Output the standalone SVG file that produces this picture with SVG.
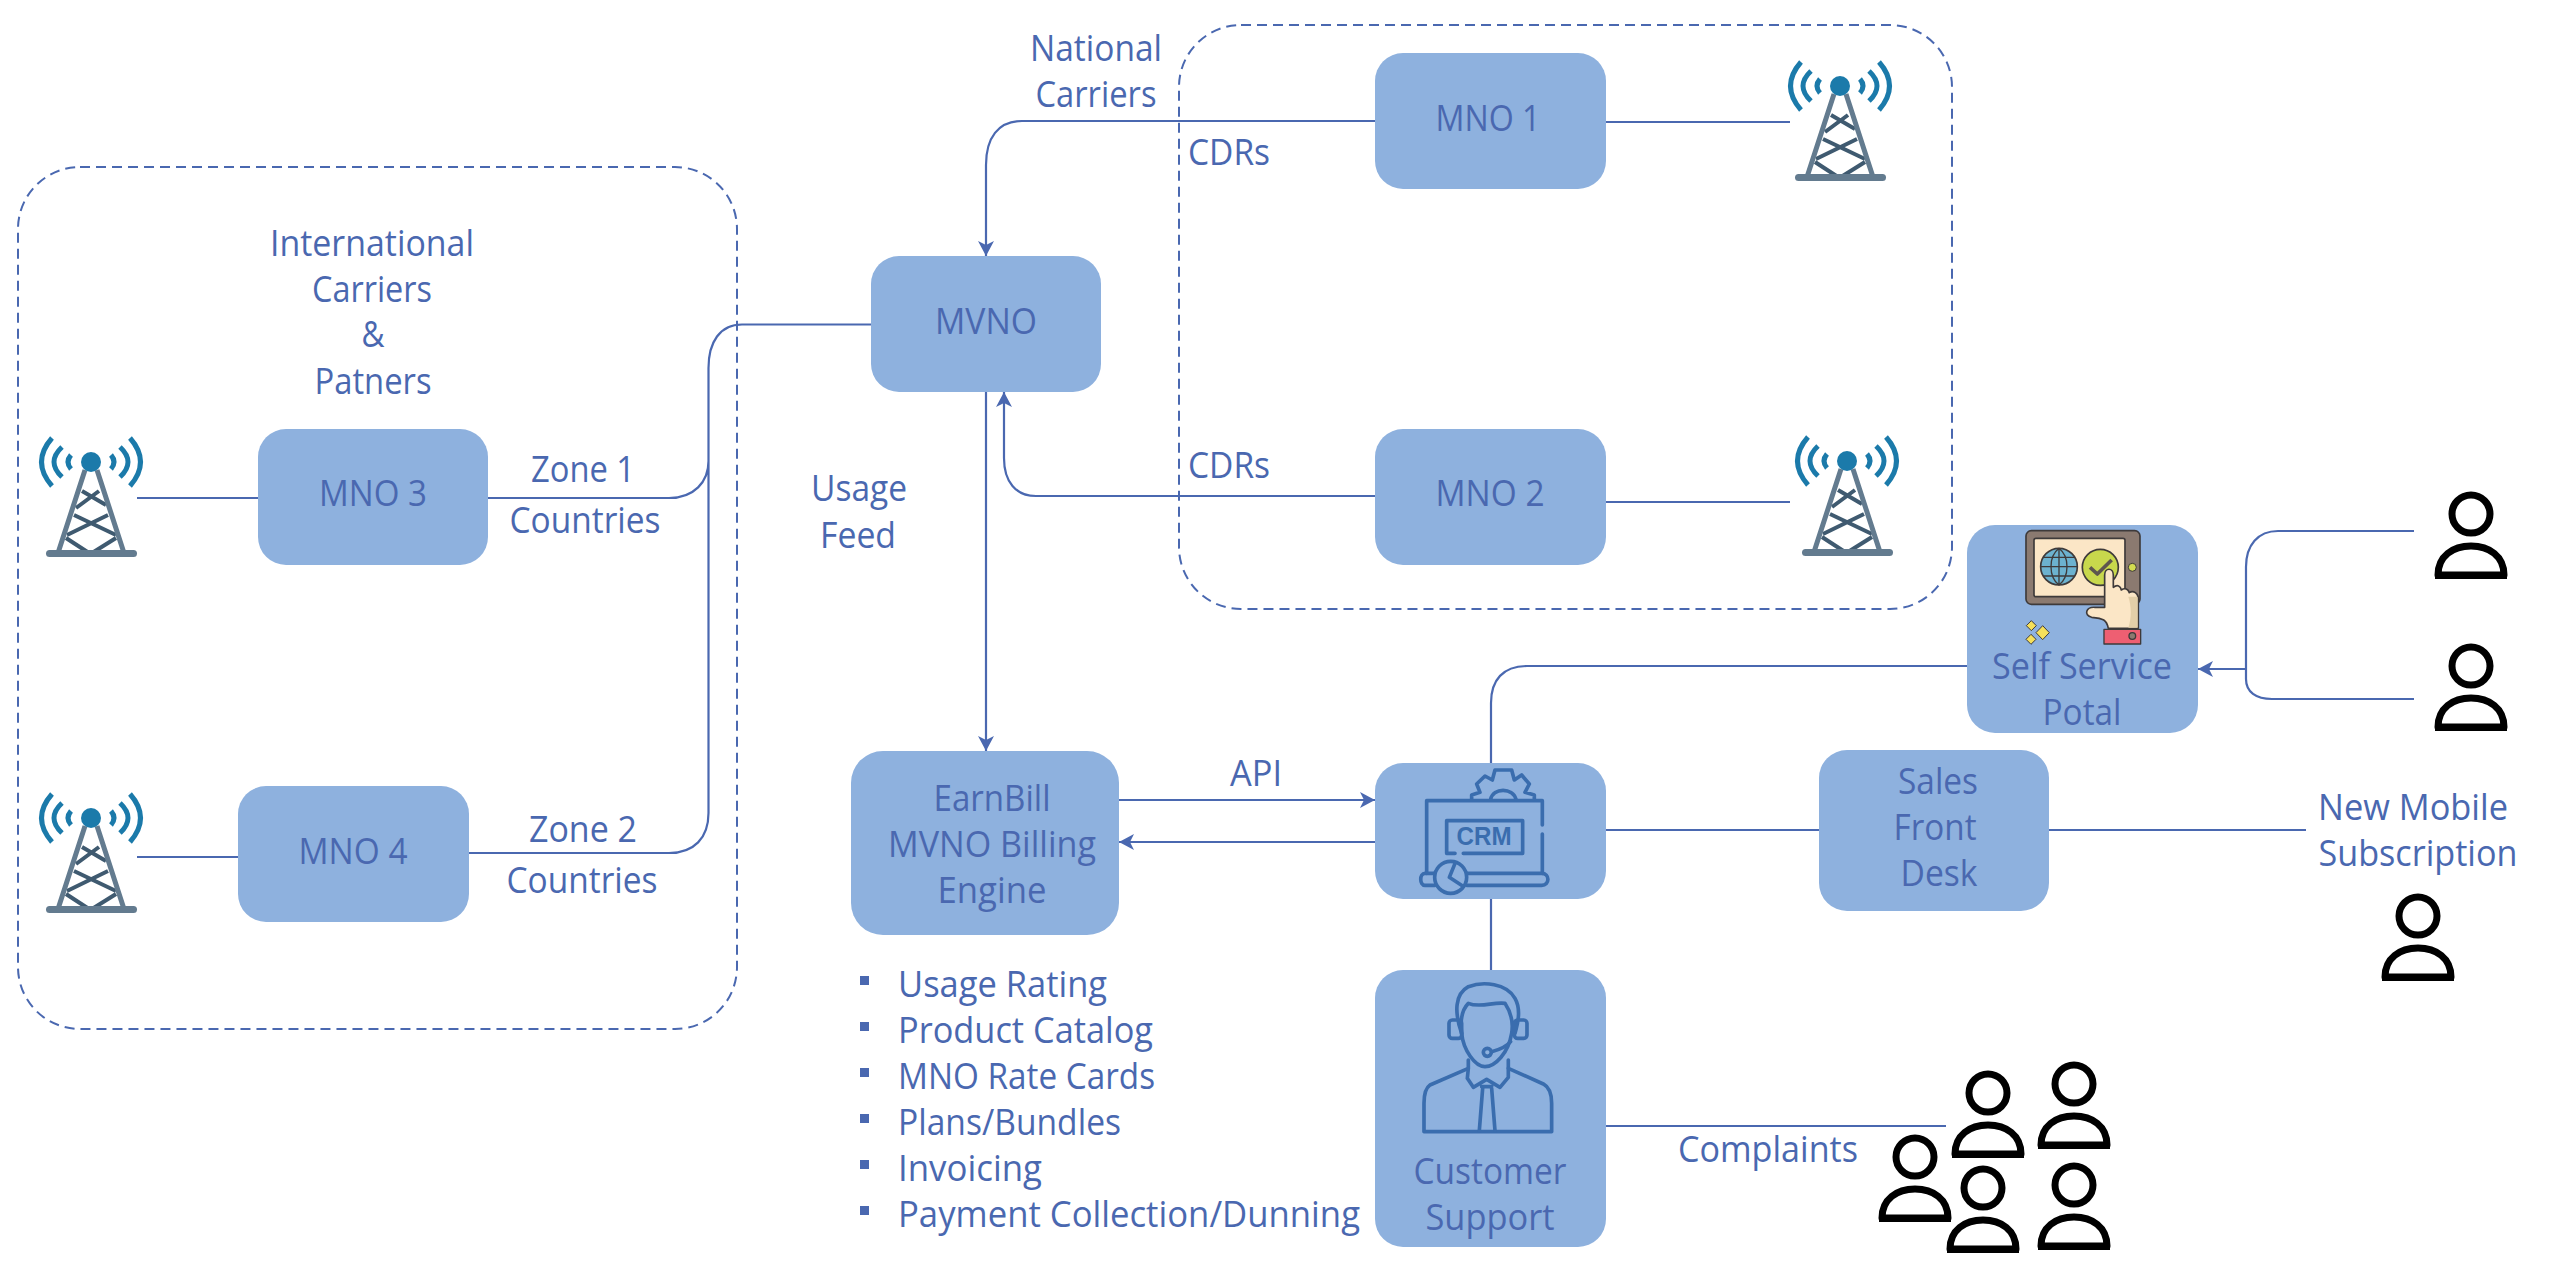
<svg xmlns="http://www.w3.org/2000/svg" xmlns:xlink="http://www.w3.org/1999/xlink" width="2560" height="1281" viewBox="0 0 2560 1281">
<style>
text{font-family:"Open Sans","Noto Sans","Liberation Sans",sans-serif;font-size:37px;fill:#4A68B0}
.c{text-anchor:middle}
.box{fill:#8EB1DE}
.line{fill:none;stroke:#4A68B0;stroke-width:2.2}
.dash{fill:none;stroke:#4A68B0;stroke-width:2;stroke-dasharray:10 6}
.arr{marker-end:url(#ah)}
.ico{fill:none;stroke:#3A6DAE;stroke-width:11;stroke-linecap:round;stroke-linejoin:round}
.dk{stroke:#3E3A3A;stroke-width:4;stroke-linejoin:round}
.leg{stroke:#637B8F;stroke-width:5;fill:none}
.brace{stroke:#3F5A70;stroke-width:4;fill:none}
.wave{stroke:#1B7AAA;stroke-width:5;fill:none}
.person{fill:none;stroke:#000;stroke-width:7;stroke-linejoin:round}
</style>
<defs>
<marker id="ah" markerUnits="userSpaceOnUse" viewBox="-16 -9 16 18" refX="0" refY="0" markerWidth="16" markerHeight="18" orient="auto"><path d="M0,0L-15,-8L-11,0L-15,8Z" fill="#4A68B0"/></marker>
<g id="tower">
<path class="wave" d="M-39,-24Q-60,0-39,24M-29,-15Q-45,0-29,15M-20,-7Q-26,0-20,7M39,-24Q60,0 39,24M29,-15Q45,0 29,15M20,-7Q26,0 20,7"/>
<path class="brace" d="M-9,29L15,43M8,29L-15,46M-17,53L25,73M17,53L-24,73M-25,76L-2,91M25,76L1,91"/>
<path class="leg" d="M-6,8L-33,91M6,8L33,91"/>
<circle r="10" fill="#1B7AAA"/>
<rect x="-45" y="88" width="91" height="7" rx="3.5" fill="#637B8F"/>
</g>
<g id="person">
<circle r="19" class="person"/>
<path class="person" d="M-33,61C-33,42-18,32 0,32C18,32 33,42 33,61Z"/>
<rect x="-36" y="59" width="72" height="6" fill="#000"/>
</g>
</defs>
<rect width="2560" height="1281" fill="#fff"/>
<g id="zones">
<rect class="dash" x="18" y="167" width="719" height="862" rx="62" ry="62"/>
<rect class="dash" x="1179" y="25" width="773" height="584" rx="62" ry="62"/>
</g>
<g id="connectors">
<path class="line arr" d="M1375,121H1022C998,121 986,138 986,165V256"/>
<path class="line arr" d="M1375,496H1036C1016,496 1004,482 1004,458V392"/>
<path class="line" d="M1606,122H1790M1606,502H1790"/>
<path class="line" d="M871,324.500H742C720,324.500 708.500,342 708.500,368V461C708.500,482 694,498 669,498H488M708.500,461V813C708.500,838 694,853 669,853H469"/>
<path class="line" d="M137,498H258M137,857H238"/>
<path class="line arr" d="M986,392V751"/>
<path class="line arr" d="M1119,800H1375"/>
<path class="line arr" d="M1375,842H1119"/>
<path class="line" d="M1967,666H1527C1503,666 1491,680 1491,703V763"/>
<path class="line" d="M1606,830H1819M2049,830H2306M1491,899V970M1606,1126H1946"/>
<path class="line" d="M2414,531H2278C2258,531 2246,545 2246,567V679C2246,692 2256,699 2272,699H2414"/>
<path class="line arr" d="M2246,669H2198"/>
</g>
<g id="labels">
<text class="c" x="372" y="256" textLength="204" lengthAdjust="spacingAndGlyphs">International</text>
<text class="c" x="372" y="302" textLength="120" lengthAdjust="spacingAndGlyphs">Carriers</text>
<text class="c" x="373" y="347" textLength="23" lengthAdjust="spacingAndGlyphs">&amp;</text>
<text class="c" x="373" y="394" textLength="117" lengthAdjust="spacingAndGlyphs">Patners</text>
<text class="c" x="1096" y="61" textLength="132" lengthAdjust="spacingAndGlyphs">National</text>
<text class="c" x="1096" y="107" textLength="121" lengthAdjust="spacingAndGlyphs">Carriers</text>
<text x="1188" y="165" textLength="82" lengthAdjust="spacingAndGlyphs">CDRs</text>
<text x="1188" y="478" textLength="82" lengthAdjust="spacingAndGlyphs">CDRs</text>
<text class="c" x="583" y="482" textLength="104" lengthAdjust="spacingAndGlyphs">Zone 1</text>
<text class="c" x="585" y="533" textLength="151" lengthAdjust="spacingAndGlyphs">Countries</text>
<text class="c" x="583" y="842" textLength="108" lengthAdjust="spacingAndGlyphs">Zone 2</text>
<text class="c" x="582" y="893" textLength="151" lengthAdjust="spacingAndGlyphs">Countries</text>
<text class="c" x="859" y="501" textLength="96" lengthAdjust="spacingAndGlyphs">Usage</text>
<text class="c" x="858" y="548" textLength="76" lengthAdjust="spacingAndGlyphs">Feed</text>
<text class="c" x="1256" y="786" textLength="52" lengthAdjust="spacingAndGlyphs">API</text>
<text x="1678" y="1162" textLength="180" lengthAdjust="spacingAndGlyphs">Complaints</text>
<text class="c" x="2413" y="820" textLength="190" lengthAdjust="spacingAndGlyphs">New Mobile</text>
<text class="c" x="2418" y="866" textLength="199" lengthAdjust="spacingAndGlyphs">Subscription</text>
</g>
<g id="billing-features">
<g fill="#4A68B0"><rect x="860" y="976" width="9" height="9"/><rect x="860" y="1022" width="9" height="9"/><rect x="860" y="1068" width="9" height="9"/><rect x="860" y="1114" width="9" height="9"/><rect x="860" y="1160" width="9" height="9"/><rect x="860" y="1206" width="9" height="9"/></g>
<text x="898" y="997" textLength="209" lengthAdjust="spacingAndGlyphs">Usage Rating</text>
<text x="898" y="1043" textLength="255" lengthAdjust="spacingAndGlyphs">Product Catalog</text>
<text x="898" y="1089" textLength="257" lengthAdjust="spacingAndGlyphs">MNO Rate Cards</text>
<text x="898" y="1135" textLength="223" lengthAdjust="spacingAndGlyphs">Plans/Bundles</text>
<text x="898" y="1181" textLength="144" lengthAdjust="spacingAndGlyphs">Invoicing</text>
<text x="898" y="1227" textLength="462" lengthAdjust="spacingAndGlyphs">Payment Collection/Dunning</text>
</g>
<g id="mvno"><rect class="box" x="871" y="256" width="230" height="136" rx="28"/><text class="c" x="986" y="334" textLength="102" lengthAdjust="spacingAndGlyphs">MVNO</text></g>
<g id="mno1"><rect class="box" x="1375" y="53" width="231" height="136" rx="28"/><text class="c" x="1488" y="131" textLength="105" lengthAdjust="spacingAndGlyphs">MNO 1</text></g>
<g id="mno2"><rect class="box" x="1375" y="429" width="231" height="136" rx="28"/><text class="c" x="1490" y="506" textLength="109" lengthAdjust="spacingAndGlyphs">MNO 2</text></g>
<g id="mno3"><rect class="box" x="258" y="429" width="230" height="136" rx="28"/><text class="c" x="373" y="506" textLength="108" lengthAdjust="spacingAndGlyphs">MNO 3</text></g>
<g id="mno4"><rect class="box" x="238" y="786" width="231" height="136" rx="28"/><text class="c" x="353" y="864" textLength="109" lengthAdjust="spacingAndGlyphs">MNO 4</text></g>
<g id="earnbill"><rect class="box" x="851" y="751" width="268" height="184" rx="32"/>
<text class="c" x="992" y="811" textLength="117" lengthAdjust="spacingAndGlyphs">EarnBill</text>
<text class="c" x="992" y="857" textLength="208" lengthAdjust="spacingAndGlyphs">MVNO Billing</text>
<text class="c" x="992" y="903" textLength="109" lengthAdjust="spacingAndGlyphs">Engine</text></g>
<g id="crm"><rect class="box" x="1375" y="763" width="231" height="136" rx="28"/>
<g transform="translate(1380 760) scale(.3333)">
<path class="ico" d="M275,118V105L300,97L290,72L315,48L337,60L345,30H395L403,60L425,45L448,72L435,97L463,105V118M332,118C340,82 398,82 408,118"/>
<path class="ico" d="M140,340V122H487V195M487,222V340"/>
<path class="ico" d="M225,280H200V182H428V280H250"/>
<path class="ico" d="M165,340H135C118,340 118,376 135,376H165M260,340H485C510,340 510,376 485,376H260"/>
<circle class="ico" cx="212" cy="352" r="48" style="fill:#8EB1DE"/>
<path class="ico" d="M226,308L208,352L248,378"/>
</g>
<text x="1484" y="845" text-anchor="middle" textLength="55" lengthAdjust="spacingAndGlyphs" style="font-family:'Liberation Sans',sans-serif;font-weight:bold;font-size:25px;fill:#3A6DAE">CRM</text></g>
<g id="customer-support"><rect class="box" x="1375" y="970" width="231" height="277" rx="28"/>
<g transform="translate(1380 970) scale(.3333)">
<path class="ico" d="M245,190C222,125 225,72 265,50C310,33 380,40 405,85C425,120 412,165 405,190"/>
<path class="ico" d="M265,100C300,115 340,95 375,100C395,130 400,160 395,190C385,250 345,290 315,290C285,290 250,240 245,190C240,150 245,120 265,100Z"/>
<rect class="ico" x="207" y="150" width="38" height="55" rx="10"/><rect class="ico" x="403" y="150" width="38" height="55" rx="10"/>
<path class="ico" d="M392,215C378,232 355,240 335,245"/><circle class="ico" cx="322" cy="247" r="12"/>
<path class="ico" d="M265,270V295L150,345C135,355 132,380 132,400V485H515V400C515,370 505,350 490,342L385,295V270"/>
<path class="ico" d="M265,295L262,325L280,352L320,328L360,352L385,322V295M305,350H335M308,355L298,482M335,355L345,482"/>
</g>
<text class="c" x="1490" y="1184" textLength="153" lengthAdjust="spacingAndGlyphs">Customer</text>
<text class="c" x="1490" y="1230" textLength="129" lengthAdjust="spacingAndGlyphs">Support</text></g>
<g id="sales"><rect class="box" x="1819" y="750" width="230" height="161" rx="28"/>
<text class="c" x="1938" y="794" textLength="80" lengthAdjust="spacingAndGlyphs">Sales</text>
<text class="c" x="1935" y="840" textLength="83" lengthAdjust="spacingAndGlyphs">Front</text>
<text class="c" x="1939" y="886" textLength="77" lengthAdjust="spacingAndGlyphs">Desk</text></g>
<g id="self-service"><rect class="box" x="1967" y="525" width="231" height="208" rx="28"/>
<g transform="translate(1960 510) scale(.3333)">
<rect class="dk" x="198" y="62" width="342" height="221" rx="16" fill="#8B7A70" style="stroke-width:5"/>
<rect class="dk" x="222" y="85" width="273" height="175" rx="6" fill="#FBE6C6" style="stroke-width:5"/>
<circle class="dk" cx="297" cy="170" r="55" fill="#6CB2CF" style="stroke-width:5"/>
<path d="M297,115C265,140 265,200 297,225C329,200 329,140 297,115M297,115V225M242,170H352M250,142H344M250,198H344" fill="none" stroke="#3E3A3A" stroke-width="4"/>
<circle class="dk" cx="421" cy="172" r="54" fill="#C8D84C" style="stroke-width:5"/>
<path d="M390,172L412,192L455,150" fill="none" stroke="#5E564F" stroke-width="11" stroke-linejoin="round"/>
<circle class="dk" cx="517" cy="172" r="12" fill="#D4DC50" style="stroke-width:3"/>
<path class="dk" fill="#FBE6C6" style="stroke-width:5" d="M434,195C434,172 460,172 460,195V232C472,222 482,228 484,240C495,232 505,238 508,248C520,240 535,250 535,265V355H445C440,330 430,325 395,322C370,315 378,290 405,292H434Z"/>
<path d="M505,260H533V353H505C515,325 515,290 505,260Z" fill="#E3CFA8"/>
<rect class="dk" x="432" y="358" width="110" height="44" fill="#EE5F72" style="stroke-width:4"/>
<circle class="dk" cx="517" cy="378" r="10" fill="#8B7A70" style="stroke-width:4"/>
<path class="dk" fill="#F6E05A" style="stroke-width:3" d="M214,332L229,347L214,362L199,347ZM248,347L268,368L248,389L228,368ZM213,373L228,388L213,403L198,388Z"/>
</g>
<text class="c" x="2082" y="679" textLength="180" lengthAdjust="spacingAndGlyphs">Self Service</text>
<text class="c" x="2082" y="725" textLength="79" lengthAdjust="spacingAndGlyphs">Potal</text></g>
<g id="tower-1"><use xlink:href="#tower" href="#tower" x="1840" y="86"/></g>
<g id="tower-2"><use xlink:href="#tower" href="#tower" x="1847" y="461"/></g>
<g id="tower-3"><use xlink:href="#tower" href="#tower" x="91" y="462"/></g>
<g id="tower-4"><use xlink:href="#tower" href="#tower" x="91" y="818"/></g>
<g id="user-1"><use href="#person" x="2471" y="514"/></g>
<g id="user-2"><use href="#person" x="2471" y="666"/></g>
<g id="user-3"><use href="#person" x="2418" y="916"/></g>
<g id="user-4"><use href="#person" x="1988" y="1093"/></g>
<g id="user-5"><use href="#person" x="2074" y="1084"/></g>
<g id="user-6"><use href="#person" x="1915" y="1157"/></g>
<g id="user-7"><use href="#person" x="1983" y="1188"/></g>
<g id="user-8"><use href="#person" x="2074" y="1185"/></g>
</svg>
